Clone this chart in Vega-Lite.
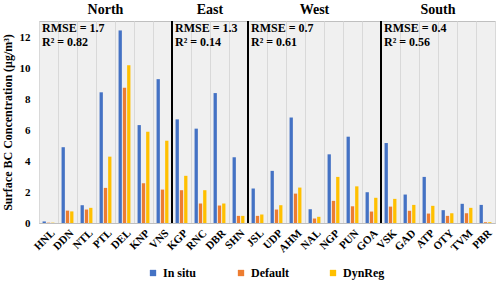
{
  "$schema": "https://vega.github.io/schema/vega-lite/v6.json",
  "autosize": {"type": "none"},
  "padding": {"left": 39, "top": 21, "right": 5, "bottom": 63},
  "width": 456,
  "height": 202,
  "background": "white",
  "config": {
    "font": "Liberation Serif",
    "axis": {"labelFont": "Liberation Serif", "titleFont": "Liberation Serif", "labelOverlap": false},
    "axisY": {"values": [0, 2, 4, 6, 8, 10, 12], "labelOverlap": false},
    "legend": {"labelFont": "Liberation Serif"},
    "text": {"font": "Liberation Serif"},
    "view": {"fill": "#f0f0f0", "stroke": "#bfbfbf"}
  },
  "datasets": {
    "bars": [
      {"s": "HNL", "In situ": 0.1, "Default": 0.02, "DynReg": 0.02},
      {"s": "DDN", "In situ": 4.9, "Default": 0.8, "DynReg": 0.75},
      {"s": "NTL", "In situ": 1.15, "Default": 0.87, "DynReg": 0.98},
      {"s": "PTL", "In situ": 8.45, "Default": 2.27, "DynReg": 4.29},
      {"s": "DEL", "In situ": 12.45, "Default": 8.75, "DynReg": 10.2},
      {"s": "KNP", "In situ": 6.33, "Default": 2.57, "DynReg": 5.9},
      {"s": "VNS", "In situ": 9.3, "Default": 2.16, "DynReg": 5.32},
      {"s": "KGP", "In situ": 6.7, "Default": 2.12, "DynReg": 3.05},
      {"s": "RNC", "In situ": 6.1, "Default": 1.26, "DynReg": 2.12},
      {"s": "DBR", "In situ": 8.4, "Default": 1.13, "DynReg": 1.26},
      {"s": "SHN", "In situ": 4.25, "Default": 0.46, "DynReg": 0.46},
      {"s": "JSL", "In situ": 2.23, "Default": 0.46, "DynReg": 0.55},
      {"s": "UDP", "In situ": 3.37, "Default": 0.87, "DynReg": 1.15},
      {"s": "AHM", "In situ": 6.82, "Default": 1.9, "DynReg": 2.29},
      {"s": "NAL", "In situ": 0.89, "Default": 0.29, "DynReg": 0.4},
      {"s": "NGP", "In situ": 4.44, "Default": 1.43, "DynReg": 2.98},
      {"s": "PUN", "In situ": 5.58, "Default": 1.08, "DynReg": 2.37},
      {"s": "GOA", "In situ": 1.99, "Default": 0.74, "DynReg": 1.63},
      {"s": "VSK", "In situ": 5.17, "Default": 1.06, "DynReg": 1.56},
      {"s": "GAD", "In situ": 1.84, "Default": 0.79, "DynReg": 1.17},
      {"s": "ATP", "In situ": 2.98, "Default": 0.61, "DynReg": 1.11},
      {"s": "OTY", "In situ": 0.83, "Default": 0.46, "DynReg": 0.63},
      {"s": "TVM", "In situ": 1.24, "Default": 0.63, "DynReg": 0.98},
      {"s": "PBR", "In situ": 1.17, "Default": 0.05, "DynReg": 0.05}
    ],
    "seps": [{"s": "KGP", "value": 0, "top": 13.06}, {"s": "JSL", "value": 0, "top": 13.06}, {"s": "VSK", "value": 0, "top": 13.06}],
    "titlesMid": [{"s": "PTL", "value": 13.8, "t": "North"}, {"s": "NAL", "value": 13.8, "t": "West"}],
    "titlesEdge": [{"s": "DBR", "value": 13.8, "t": "East"}, {"s": "OTY", "value": 13.8, "t": "South"}],
    "stats": [
      {"s": "HNL", "value": 12.6, "t": "RMSE = 1.7"},
      {"s": "HNL", "value": 11.7, "t": "R² = 0.82"},
      {"s": "KGP", "value": 12.6, "t": "RMSE = 1.3"},
      {"s": "KGP", "value": 11.7, "t": "R² = 0.14"},
      {"s": "JSL", "value": 12.6, "t": "RMSE = 0.7"},
      {"s": "JSL", "value": 11.7, "t": "R² = 0.61"},
      {"s": "VSK", "value": 12.6, "t": "RMSE = 0.4"},
      {"s": "VSK", "value": 11.7, "t": "R² = 0.56"}
    ]
  },
  "encoding": {
    "x": {
      "field": "s", "type": "nominal",
      "scale": {"domain": ["HNL","DDN","NTL","PTL","DEL","KNP","VNS","KGP","RNC","DBR","SHN","JSL","UDP","AHM","NAL","NGP","PUN","GOA","VSK","GAD","ATP","OTY","TVM","PBR"], "paddingInner": 0, "paddingOuter": 0},
      "axis": {"title": null, "labelAngle": -45, "labelAlign": "right", "labelBaseline": "top", "labelFont": "Liberation Serif", "labelFontWeight": "bold", "labelFontSize": 11, "labelColor": "black", "labelPadding": 4, "tickBand": "extent", "grid": true, "gridColor": "#d9d9d9", "ticks": false, "domainColor": "#bfbfbf"}
    },
    "y": {
      "field": "value", "type": "quantitative",
      "scale": {"domain": [0, 13.06], "nice": false},
      "axis": {"values": [0, 2, 4, 6, 8, 10, 12], "labelOverlap": false, "title": "Surface BC Concentration (μg/m³)", "titleFont": "Liberation Serif", "titleFontSize": 12, "titleFontWeight": "bold", "titleColor": "black", "titlePadding": 5, "labelFont": "Liberation Serif", "labelFontWeight": "bold", "labelFontSize": 11, "labelColor": "black", "labelPadding": 9, "ticks": false, "domain": false, "grid": false}
    }
  },
  "layer": [
    {
      "data": {"name": "bars"},
      "transform": [{"fold": ["In situ", "Default", "DynReg"], "as": ["series", "value"]}],
      "mark": {"type": "bar"},
      "encoding": {
        "xOffset": {"field": "series", "type": "nominal", "sort": ["In situ", "Default", "DynReg"], "scale": {"paddingInner": 0.23, "paddingOuter": 0.83}},
        "color": {
          "field": "series", "type": "nominal",
          "scale": {"domain": ["In situ", "Default", "DynReg"], "range": ["#4472C4", "#ED7D31", "#FFC000"]},
          "legend": {"title": null, "orient": "none", "legendX": 108, "legendY": 246, "direction": "horizontal", "columns": 3, "columnPadding": 38, "symbolType": "square", "symbolSize": 40, "symbolStrokeWidth": 0, "labelFont": "Liberation Serif", "labelFontSize": 12, "labelFontWeight": "bold", "labelColor": "black"}
        }
      }
    },
    {
      "data": {"name": "seps"},
      "mark": {"type": "rule", "color": "black", "strokeWidth": 2},
      "encoding": {
        "x": {"field": "s", "type": "nominal", "bandPosition": 0},
        "y2": {"field": "top"}
      }
    },
    {
      "data": {"name": "titlesMid"},
      "mark": {"type": "text", "font": "Liberation Serif", "fontSize": 14, "fontWeight": "bold", "color": "black", "baseline": "middle"},
      "encoding": {
        "text": {"field": "t"}
      }
    },
    {
      "data": {"name": "titlesEdge"},
      "mark": {"type": "text", "font": "Liberation Serif", "fontSize": 14, "fontWeight": "bold", "color": "black", "baseline": "middle"},
      "encoding": {
        "x": {"field": "s", "type": "nominal", "bandPosition": 0},
        "text": {"field": "t"}
      }
    },
    {
      "data": {"name": "stats"},
      "mark": {"type": "text", "font": "Liberation Serif", "fontSize": 12, "fontWeight": "bold", "color": "black", "align": "left", "baseline": "middle", "dx": 3},
      "encoding": {
        "x": {"field": "s", "type": "nominal", "bandPosition": 0},
        "text": {"field": "t"}
      }
    }
  ]
}
